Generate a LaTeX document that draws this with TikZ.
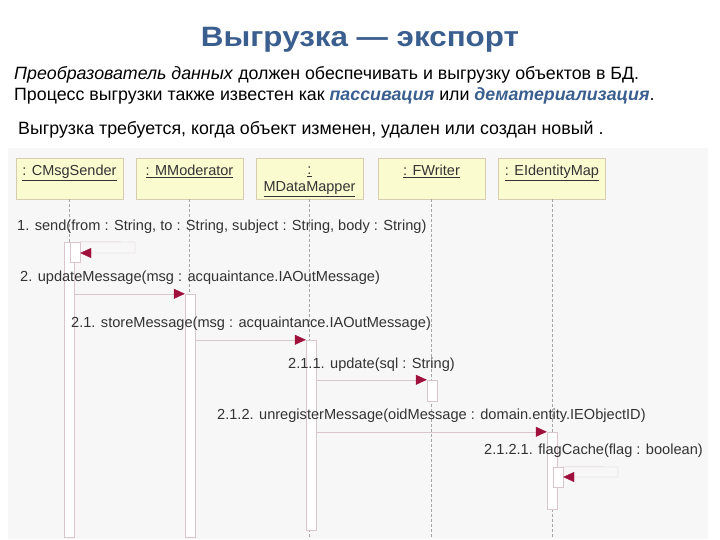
\documentclass[tikz,border=0pt]{standalone}
\usepackage{fontspec}
\setmainfont{Liberation Sans}
\newfontfamily\titlefont[FakeStretch=1.12]{Liberation Sans}
\usetikzlibrary{arrows.meta}
\definecolor{titleblue}{HTML}{3A5F8F}
\definecolor{panelbg}{HTML}{F7F7F7}
\definecolor{boxfill}{HTML}{FBFBD0}
\definecolor{boxline}{HTML}{D6CDB0}
\definecolor{actline}{HTML}{D9C6CC}
\definecolor{headred}{HTML}{A0103C}
\tikzset{
  lifebox/.style={draw=boxline,fill=boxfill,minimum width=107pt,minimum height=41pt,inner sep=0pt},
  lifelabel/.style={anchor=north,inner sep=0pt,align=center,font=\fontsize{14.5}{17}\selectfont,text=black!80},
  lifeline/.style={draw=gray!70,dashed,dash pattern=on 3pt off 2pt},
  activ/.style={draw=actline,fill=white,minimum width=10pt,inner sep=0pt},
  msg/.style={draw=actline,-{Triangle[length=11pt,width=10pt,color=headred]}},
  msglabel/.style={anchor=west,inner sep=0pt,font=\fontsize{14.6}{16}\selectfont,text=black!80},
  para/.style={anchor=west,inner sep=0pt,font=\fontsize{17.8}{20}\selectfont}
}
\begin{document}
\begin{tikzpicture}[x=1pt,y=-1pt]
  \useasboundingbox (0,0) rectangle (720,540);
  % heading and text
  \node[font=\titlefont\fontsize{28}{32}\selectfont\bfseries,text=titleblue] (title) at (360,40) {Выгрузка — экспорт};
  \node[para] (line1) at (14,75) {\textit{Преобразователь данных} должен обеспечивать и выгрузку объектов в БД.};
  \node[para] (line2) at (14,96) {Процесс выгрузки также известен как \textcolor{titleblue}{\textbf{\textit{пассивация}}} или \textcolor{titleblue}{\textbf{\textit{дематериализация}}}.};
  \node[para] (line3) at (18,130) {Выгрузка требуется, когда объект изменен, удален или создан новый .};
  % panel
  \fill[panelbg] (8,148) rectangle (708,539);
  % objects
  \draw
    (69.5,178.5) node[lifebox] (sender){}
    (189.5,178.5) node[lifebox] (moder){}
    (309.5,178.5) node[lifebox] (mapper){}
    (431.5,178.5) node[lifebox] (writer){}
    (552,178.5) node[lifebox] (idmap){};
  \node[lifelabel] (senderlbl) at ([yshift=-7pt]sender.north) {\underline{: CMsgSender}};
  \node[lifelabel] (moderlbl) at ([yshift=-7pt]moder.north) {\underline{: MModerator}};
  \node[lifelabel] (mapperlbl) at ([yshift=-9pt]mapper.north) {\underline{:}\\\underline{MDataMapper}};
  \node[lifelabel] (writerlbl) at ([yshift=-7pt]writer.north) {\underline{: FWriter}};
  \node[lifelabel] (idmaplbl) at ([yshift=-7pt]idmap.north) {\underline{: EIdentityMap}};
  \coordinate (bottom) at (0,537);
  \begin{scope}[lifeline]
    \draw (sender.south) -- (sender.south |- bottom);
    \draw (moder.south) -- (moder.south |- bottom);
    \draw (mapper.south) -- (mapper.south |- bottom);
    \draw (writer.south) -- (writer.south |- bottom);
    \draw (idmap.south) -- (idmap.south |- bottom);
  \end{scope}
  % activations
  \draw
    (69,389.5) node[activ,minimum height=295pt] (actsender){}
    (75,252) node[activ,minimum height=20pt] (actsender2){}
    (190,415.5) node[activ,minimum height=243pt] (actmoder){}
    (311,435) node[activ,minimum height=190pt] (actmapper){}
    (432,390.5) node[activ,minimum height=21pt] (actwriter){}
    (552,470.5) node[activ,minimum height=77pt] (actidmap){}
    (558,477) node[activ,minimum height=20pt] (actidmap2){};
  % messages
  \node[msglabel] (m1) at (17,227) {1. send(from : String, to : String, subject : String, body : String)};
  \node[msglabel] (m2) at (20,278) {2. updateMessage(msg : acquaintance.IAOutMessage)};
  \node[msglabel] (m21) at (71,324) {2.1. storeMessage(msg : acquaintance.IAOutMessage)};
  \node[msglabel] (m211) at (288,365) {2.1.1. update(sql : String)};
  \node[msglabel] (m212) at (217,416) {2.1.2. unregisterMessage(oidMessage : domain.entity.IEObjectID)};
  \node[msglabel] (m2121) at (484,451) {2.1.2.1. flagCache(flag : boolean)};
  \coordinate (self1) at (135,242);
  \coordinate (self2) at (618,467);
  \begin{scope}[msg]
    \draw (actsender2.north east) -- (self1) -- ++(0,11) -- (actsender2.east |- 0,253);
    \draw (actsender.east |- actmoder.north) -- (actmoder.north west);
    \draw (actmoder.east |- actmapper.north) -- (actmapper.north west);
    \draw (actmapper.east |- actwriter.north) -- (actwriter.north west);
    \draw (actmapper.east |- actidmap.north) -- (actidmap.north west);
    \draw (actidmap2.north east) -- (self2) -- ++(0,10) -- (actidmap2.east |- 0,477);
  \end{scope}
\end{tikzpicture}
\end{document}
